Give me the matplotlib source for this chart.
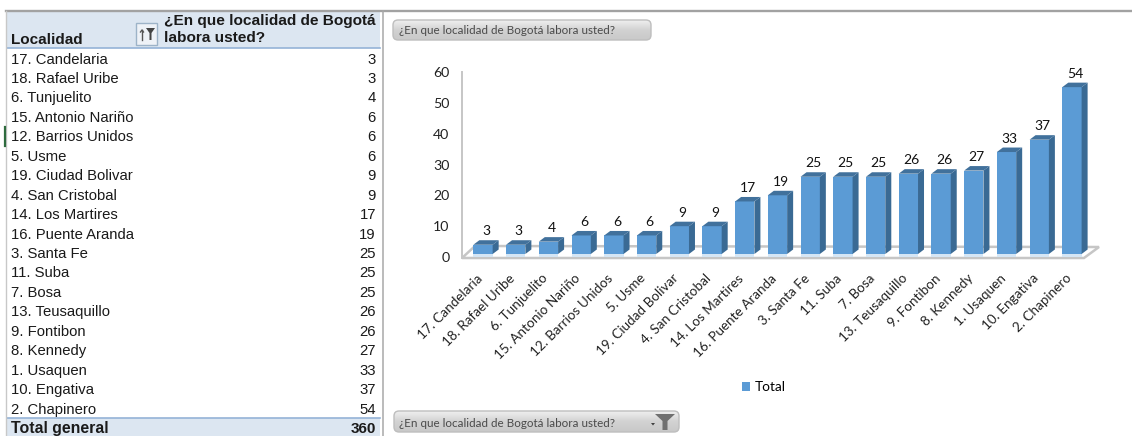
import matplotlib
matplotlib.use("Agg")
import matplotlib.pyplot as plt
from matplotlib.patches import Polygon, Rectangle, FancyBboxPatch
from matplotlib.transforms import ScaledTranslation
from matplotlib.colors import LinearSegmentedColormap
import numpy as np

categories = ["17. Candelaria", "18. Rafael Uribe", "6. Tunjuelito", "15. Antonio Nariño",
              "12. Barrios Unidos", "5. Usme", "19. Ciudad Bolivar", "4. San Cristobal",
              "14. Los Martires", "16. Puente Aranda", "3. Santa Fe", "11. Suba", "7. Bosa",
              "13. Teusaquillo", "9. Fontibon", "8. Kennedy", "1. Usaquen", "10. Engativa",
              "2. Chapinero"]
values = [3, 3, 4, 6, 6, 6, 9, 9, 17, 19, 25, 25, 25, 26, 26, 27, 33, 37, 54]
yticks = [0, 10, 20, 30, 40, 50, 60]
header_left = "Localidad"
header_right = "¿En que localidad de Bogotá\nlabora usted?"
total_label = "Total general"
total_value = 360
slicer_text = "¿En que localidad de Bogotá labora usted?"
series_name = "Total"

W, H = 1132, 436
TF = "Liberation Sans"
CF = "Lato"
fig = plt.figure(figsize=(W / 100, H / 100), dpi=100, facecolor="white")

# pixel overlay for the sheet furniture
pg = fig.add_axes([0, 0, 1, 1], zorder=0)
pg.set_xlim(0, W); pg.set_ylim(H, 0); pg.axis("off")

# pivot table
pg.add_patch(Rectangle((7, 12), 373, 36, fc="#DCE6F1", ec="none"))
pg.add_patch(Rectangle((7, 418), 373, 18, fc="#DCE6F1", ec="none"))
pg.plot([7, 380], [48, 48], color="#95B3D7", lw=1.2)
pg.plot([7, 380], [418, 418], color="#95B3D7", lw=1.2)
pg.plot([6, W], [11, 11], color="#A2A2A2", lw=1.7)
pg.plot([6, 6], [11, H], color="#C8C8C8", lw=1)
pg.plot([383, 383], [11, H], color="#A8A8A8", lw=1.1)
pg.plot([5, 5], [127, 146], color="#2E6B3E", lw=1.6)
pg.text(11, 39.5, header_left, family=TF, fontsize=11, fontweight="bold", va="center", color="#1a1a1a")
pg.text(163.5, 29.5, header_right, family=TF, fontsize=11.1, fontweight="bold", va="center",
        color="#1a1a1a", linespacing=1.32)
pg.add_patch(Rectangle((136, 23), 21, 22, fc="#EEF2F7", ec="#9DB3C8", lw=1))
pg.add_patch(Polygon([[146, 28], [155, 28], [151.5, 33], [151.5, 40], [149.5, 40], [149.5, 33]], fc="#444444", ec="none"))
pg.plot([142, 142], [30, 40], color="#555555", lw=1)
pg.plot([140.5, 142, 143.5], [32, 30, 32], color="#555555", lw=1)
for i, (c, v) in enumerate(zip(categories, values)):
    y = 59.6 + i * 19.44
    pg.text(11, y, c, family=TF, fontsize=10.7, va="center", color="#1a1a1a")
    pg.text(376, y, str(v), family=TF, fontsize=10.7, va="center", ha="right", color="#1a1a1a")
pg.text(11, 428.5, total_label, family=TF, fontsize=11.4, fontweight="bold", va="center", color="#1a1a1a")
pg.text(376, 428.5, str(total_value), family=TF, fontsize=11, fontweight="bold", va="center", ha="right", color="#1a1a1a")

# slicer pills
grad = LinearSegmentedColormap.from_list("g", ["#EFEFEF", "#D2D2D2", "#C9C9C9"])
def pill(x0, y0, x1, y1):
    box = FancyBboxPatch((x0 + 5, y0 + 5), x1 - x0 - 10, y1 - y0 - 10, boxstyle="round,pad=5",
                         fc="none", ec="#BEBEBE", lw=1, zorder=2)
    pg.add_patch(box)
    im = pg.imshow(np.linspace(0, 1, 32)[:, None], cmap=grad, extent=(x0, x1, y1, y0),
                   aspect="auto", zorder=1)
    im.set_clip_path(box)
pill(393, 20, 651, 40)
pill(394, 411, 679, 432)
pg.set_xlim(0, W); pg.set_ylim(H, 0)
pg.text(399, 31, slicer_text, family=CF, fontsize=8.35, va="center", color="#4A4A4A", zorder=3)
pg.text(399, 423, slicer_text, family=CF, fontsize=8.35, va="center", color="#4A4A4A", zorder=3)
pg.add_patch(Polygon([[655, 414], [675, 414], [667.5, 421], [667.5, 430], [662.5, 430], [662.5, 421]],
                     fc="#707070", ec="none", zorder=3))
pg.add_patch(Polygon([[651, 423], [655, 423], [653, 425.5]], fc="#404040", ec="none", zorder=3))

# floor and vertical axis line
FLOOR = [[462, 258], [475, 246], [1099, 247], [1084, 258]]
pg.add_patch(Polygon(FLOOR, fc="white", ec="#C6C6C6", lw=1.8, zorder=1))
pg.plot([461.5, 461.5], [72, 258], color="#C6C6C6", lw=1.4, zorder=1)

# chart axes: 0 at y=254 px, 3.09 px per unit, centres 483 + 32.72 i
PX_U, PITCH = 3.09, 32.72
L, R, BASE = 462, 1084, 254
ymax = 60
ax = fig.add_axes([L / W, 1 - BASE / H, (R - L) / W, ymax * PX_U / H], zorder=2)
ax.patch.set_alpha(0)
ax.set_xlim((L - 483) / PITCH, (R - 483) / PITCH)
ax.set_ylim(0, ymax)
for s in ax.spines.values():
    s.set_visible(False)

FRONT, SIDE, TOP = "#5B9BD5", "#3A6A94", "#41719C"
x = np.arange(len(values))
bw = 0.59
bars = ax.bar(x, values, bw, color=FRONT, label=series_name, zorder=3)
dx, dy = 6 / PITCH, 4.5 / PX_U
for xi, v in zip(x, values):
    l, r = xi - bw / 2, xi + bw / 2
    ax.add_patch(Polygon([[r, 0], [r + dx, dy], [r + dx, v + dy], [r, v]], fc=SIDE, ec="none", zorder=3, clip_on=False))
    ax.add_patch(Polygon([[l, v], [l + dx, v + dy], [r + dx, v + dy], [r, v]], fc=TOP, ec="none", zorder=3, clip_on=False))
    # pale reflection on the floor under each bar
    ax.add_patch(Rectangle((l, -2.6 / PX_U), bw, 2.6 / PX_U, fc="#D5E6F5", ec="none", zorder=2, clip_on=False))
    ax.annotate(str(v), (xi + dx / 2, v + dy), xytext=(0, 2), textcoords="offset points", ha="center",
                va="bottom", family=CF, fontsize=10, color="#111111", zorder=4, annotation_clip=False)

ax.set_yticks(yticks)
ax.tick_params(axis="y", length=0, pad=9, labelsize=10.2, labelcolor="#222222")
off = ScaledTranslation(0, -3.2 / 100, fig.dpi_scale_trans)
for t in ax.get_yticklabels():
    t.set_family(CF)
    t.set_transform(t.get_transform() + off)
ax.set_xticks(x)
ax.set_xticklabels(categories, rotation=45, ha="right", rotation_mode="anchor",
                   family=CF, fontsize=9.7, color="#222222")
ax.tick_params(axis="x", length=0, pad=13)
xoff = ScaledTranslation(-7 / 100, 0, fig.dpi_scale_trans)
for t in ax.get_xticklabels():
    t.set_transform(t.get_transform() + xoff)

leg = ax.legend(handles=[bars], labels=[series_name], loc="center", frameon=False,
                bbox_to_anchor=(764 / W, 1 - 387 / H), bbox_transform=fig.transFigure,
                prop={"family": CF, "size": 9.8}, handlelength=0.62, handleheight=0.62,
                handletextpad=0.35, borderpad=0)

fig.savefig("out.png", dpi=100, facecolor="white")
